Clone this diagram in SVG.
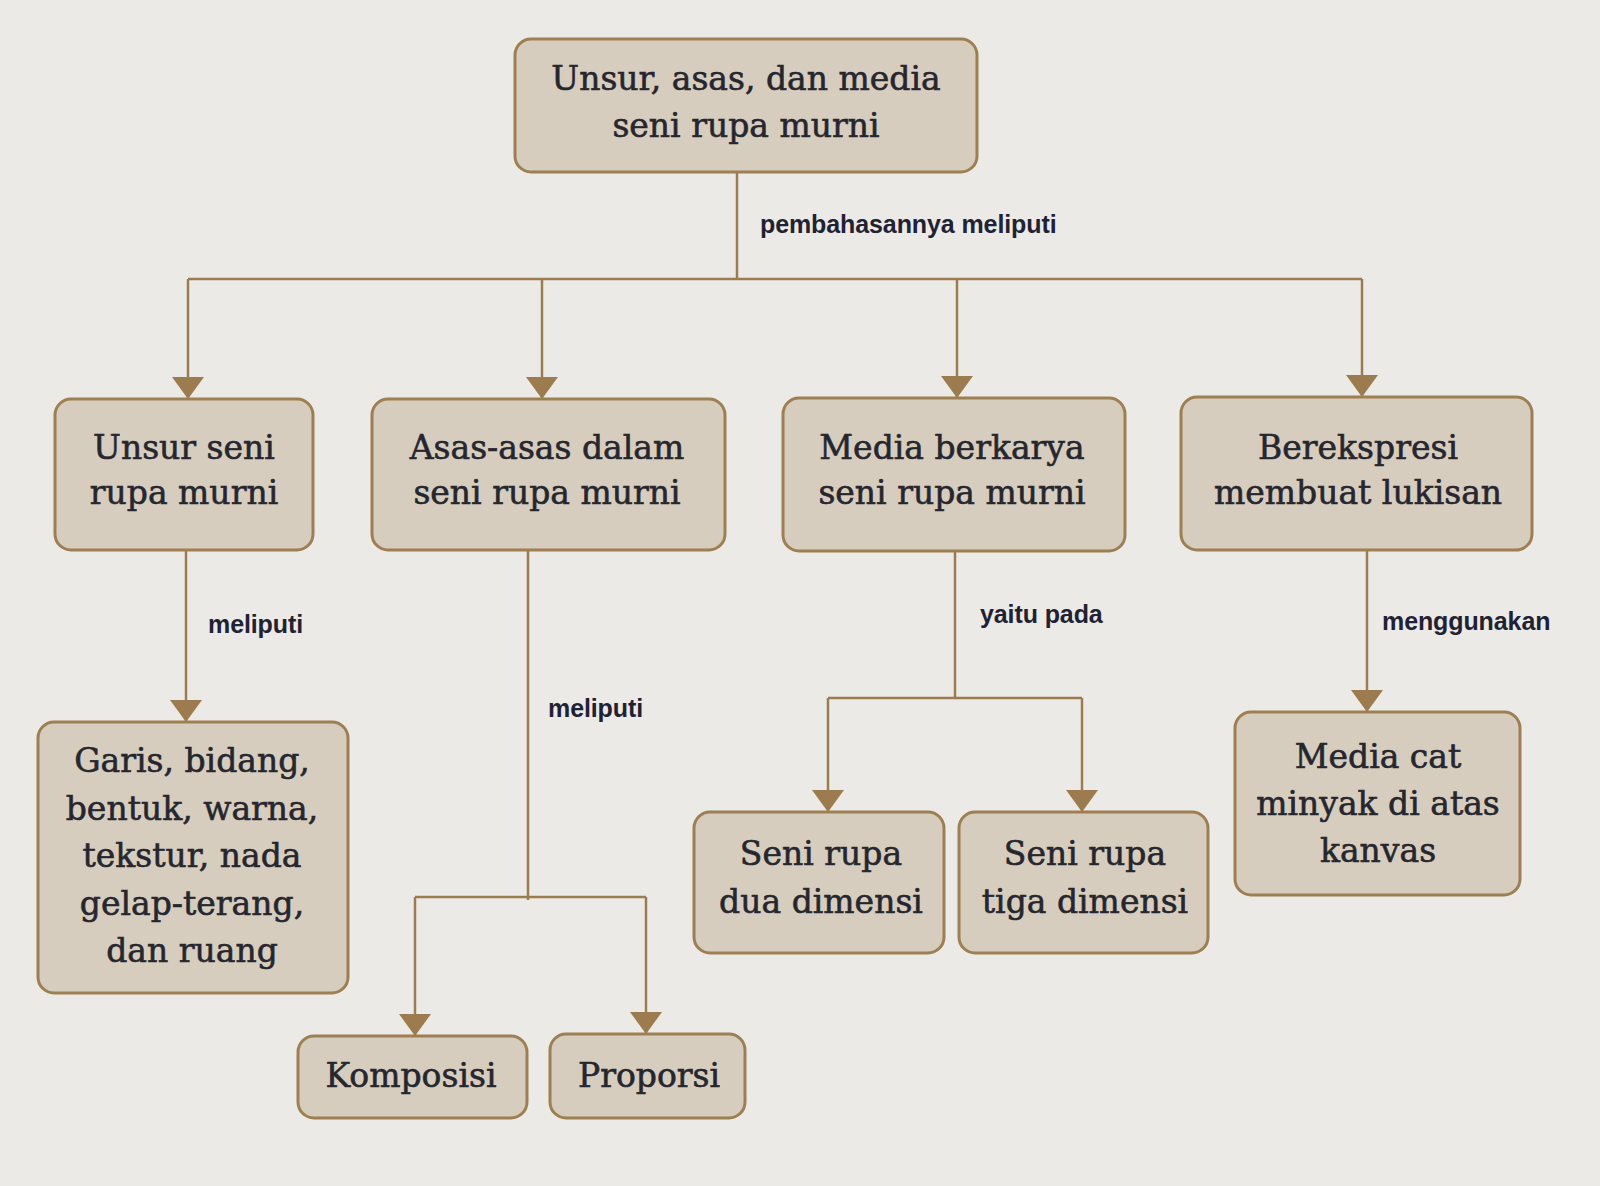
<svg xmlns="http://www.w3.org/2000/svg" width="1600" height="1186" viewBox="0 0 1600 1186">
<defs>
<marker id="arr" viewBox="0 0 22 32" refX="22" refY="16" markerWidth="22" markerHeight="32" orient="auto" markerUnits="userSpaceOnUse">
<path d="M0,0 L22,16 L0,32 Z" fill="#9C7B4E"/>
</marker>
</defs>
<style>
.box{fill:#D6CDBE;stroke:#9E7F52;stroke-width:3}
.t{font-family:"DejaVu Serif","Liberation Serif",serif;font-size:33px;fill:#26262E;stroke:#26262E;stroke-width:0.6;text-anchor:middle}
.lbl{font-family:"Liberation Sans",Arial,sans-serif;font-size:25px;font-weight:bold;fill:#1F2233;letter-spacing:-0.1px}
.c{fill:none;stroke:#9C7B4E;stroke-width:2.5}
.ca{fill:none;stroke:#9C7B4E;stroke-width:2.5;marker-end:url(#arr)}
</style>
<rect width="1600" height="1186" fill="#ECEAE7"/>
<g id="connectors">
<path class="c" d="M737,171 V279"/>
<path class="c" d="M188,279 H1362" stroke-width="3.5"/>
<path class="ca" d="M188,279 V399"/>
<path class="ca" d="M542,279 V399"/>
<path class="ca" d="M957,279 V398"/>
<path class="ca" d="M1362,279 V397"/>
<path class="ca" d="M186,550 V722"/>
<path class="c" d="M528,550 V900"/>
<path class="c" d="M415,897 H646"/>
<path class="ca" d="M415,897 V1036"/>
<path class="ca" d="M646,897 V1034"/>
<path class="c" d="M955,551 V698"/>
<path class="c" d="M828,698 H1082"/>
<path class="ca" d="M828,698 V812"/>
<path class="ca" d="M1082,698 V812"/>
<path class="ca" d="M1367,550 V712"/>
<text class="lbl" x="760" y="233">pembahasannya meliputi</text>
<text class="lbl" x="208" y="633">meliputi</text>
<text class="lbl" x="548" y="717">meliputi</text>
<text class="lbl" x="980" y="623">yaitu pada</text>
<text class="lbl" x="1382" y="630">menggunakan</text>
</g>
<g id="n-root">
<rect class="box" x="515" y="39" width="462" height="133" rx="16"/>
<text class="t" x="746" y="90">Unsur, asas, dan media</text>
<text class="t" x="746" y="137">seni rupa murni</text>
</g>
<g id="n-unsur">
<rect class="box" x="55" y="399" width="258" height="151" rx="16"/>
<text class="t" x="184" y="459">Unsur seni</text>
<text class="t" x="184" y="504">rupa murni</text>
</g>
<g id="n-asas">
<rect class="box" x="372" y="399" width="353" height="151" rx="16"/>
<text class="t" x="547" y="459">Asas-asas dalam</text>
<text class="t" x="547" y="504">seni rupa murni</text>
</g>
<g id="n-media">
<rect class="box" x="783" y="398" width="342" height="153" rx="16"/>
<text class="t" x="952" y="459">Media berkarya</text>
<text class="t" x="952" y="504">seni rupa murni</text>
</g>
<g id="n-berekspresi">
<rect class="box" x="1181" y="397" width="351" height="153" rx="16"/>
<text class="t" x="1358" y="459">Berekspresi</text>
<text class="t" x="1358" y="504">membuat lukisan</text>
</g>
<g id="n-garis">
<rect class="box" x="38" y="722" width="310" height="271" rx="16"/>
<text class="t" x="192" y="772">Garis, bidang,</text>
<text class="t" x="192" y="820">bentuk, warna,</text>
<text class="t" x="192" y="867">tekstur, nada</text>
<text class="t" x="192" y="915">gelap-terang,</text>
<text class="t" x="192" y="962">dan ruang</text>
</g>
<g id="n-komposisi">
<rect class="box" x="298" y="1036" width="229" height="82" rx="16"/>
<text class="t" x="411" y="1087">Komposisi</text>
</g>
<g id="n-proporsi">
<rect class="box" x="550" y="1034" width="195" height="84" rx="16"/>
<text class="t" x="649" y="1087">Proporsi</text>
</g>
<g id="n-dua">
<rect class="box" x="694" y="812" width="250" height="141" rx="16"/>
<text class="t" x="821" y="865">Seni rupa</text>
<text class="t" x="821" y="913">dua dimensi</text>
</g>
<g id="n-tiga">
<rect class="box" x="959" y="812" width="249" height="141" rx="16"/>
<text class="t" x="1085" y="865">Seni rupa</text>
<text class="t" x="1085" y="913">tiga dimensi</text>
</g>
<g id="n-cat">
<rect class="box" x="1235" y="712" width="285" height="183" rx="16"/>
<text class="t" x="1378" y="768">Media cat</text>
<text class="t" x="1378" y="815">minyak di atas</text>
<text class="t" x="1378" y="862">kanvas</text>
</g>
</svg>
